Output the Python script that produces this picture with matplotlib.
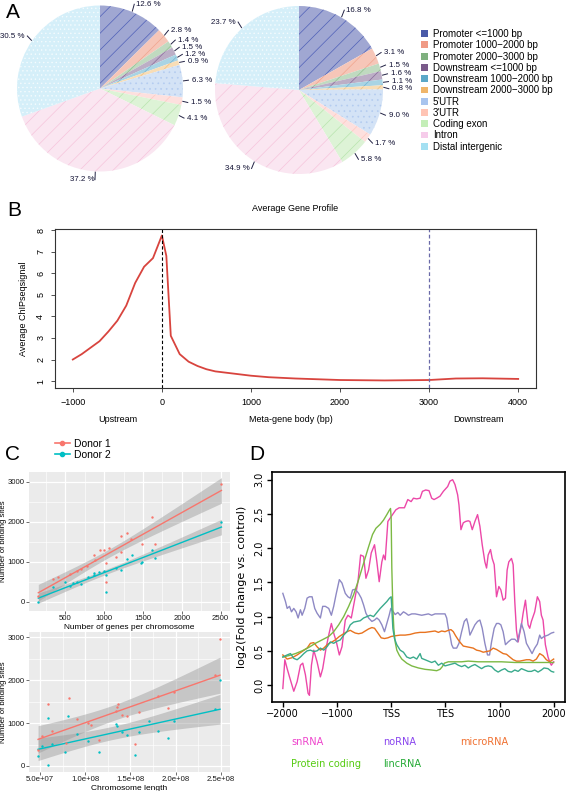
import numpy as np
import matplotlib.pyplot as plt
from matplotlib.patches import Patch
from matplotlib.lines import Line2D
import matplotlib.transforms as mtransforms

plt.rcParams['font.family'] = ['Liberation Sans', 'DejaVu Sans']
plt.rcParams['hatch.linewidth'] = 0.5

# ---------------- data ----------------
# A: genomic annotation (percent)
features = ['Promoter <=1000 bp', 'Promoter 1000\u22122000 bp', 'Promoter 2000\u22123000 bp',
            'Downstream <=1000 bp', 'Downstream 1000\u22122000 bp', 'Downstream 2000\u22123000 bp',
            "5'UTR", "3'UTR", 'Coding exon', 'Intron', 'Distal intergenic']
pct_left = [12.6, 2.8, 1.4, 1.5, 1.2, 0.9, 6.3, 1.5, 4.1, 37.2, 30.5]
pct_right = [16.8, 3.1, 1.5, 1.6, 1.1, 0.8, 9.0, 1.7, 5.8, 34.9, 23.7]

# B: average gene profile
prof_x = [-1000, -900, -800, -700, -600, -500, -400, -300, -200, -100, 0, 50, 100, 200, 300,
          400, 500, 600, 800, 1000, 1200, 1500, 2000, 2500, 3000, 3300, 3600, 4000]
prof_y = [2.0, 2.25, 2.55, 2.85, 3.3, 3.8, 4.5, 5.55, 6.3, 6.7, 7.75, 6.8, 3.1, 2.25, 1.9,
          1.7, 1.55, 1.45, 1.35, 1.25, 1.18, 1.12, 1.05, 1.03, 1.05, 1.12, 1.13, 1.1]

# C: binding sites vs genes per chromosome / chromosome length
genes_d1 = [2510, 1615, 1290, 1220, 1350, 1650, 1490, 1060, 1000, 940, 865, 1210, 1020, 1020,
            645, 410, 340, 700, 150, 780, 560, 1150, 880]
sites_g_d1 = [2950, 2120, 1730, 1640, 1570, 1450, 1450, 1360, 1290, 1290, 1170, 1240, 965, 505,
              770, 615, 570, 830, 150, 900, 700, 1130, 1050]
genes_d2 = [2510, 1620, 1355, 1650, 1290, 1470, 1210, 1020, 1000, 935, 870, 865, 790, 1020,
            600, 645, 340, 150, 490, 1490, 1150, 560, 700]
sites_g_d2 = [2010, 1300, 1170, 1090, 1070, 985, 800, 675, 775, 760, 675, 720, 620, 260,
              470, 510, 380, 10, 510, 1000, 850, 400, 450]

length_d1 = [249, 243, 198, 181, 191, 159, 146, 136, 135, 134, 155, 107, 115, 91, 82, 59, 63,
             52, 48, 79, 141, 103]
sites_l_d1 = [2950, 2130, 1730, 1630, 1360, 1250, 1170, 1440, 1365, 1280, 505, 960, 600, 1090,
              1590, 1450, 815, 700, 370, 540, 1180, 1000]
length_d2 = [249, 243, 48, 52, 59, 59, 63, 78, 81, 91, 103, 115, 135, 134, 141, 146, 155, 159,
             170, 181, 191, 198]
sites_l_d2 = [2000, 1325, 240, 470, 1110, 20, 510, 320, 1170, 735, 580, 330, 930, 980, 800,
              720, 255, 800, 1045, 820, 660, 1050]

# D: log2 fold change profiles (position 0..5 = -2000, -1000, TSS, TES, 1000, 2000)
sn_x = [0.000, 0.037, 0.080, 0.123, 0.202, 0.264, 0.325, 0.368, 0.417, 0.466, 0.491, 0.528,
        0.571, 0.632, 0.693, 0.736, 0.798, 0.847, 0.896, 0.939, 0.988, 1.043, 1.092, 1.153,
        1.202, 1.264, 1.325, 1.387, 1.436, 1.491, 1.534, 1.583, 1.632, 1.693, 1.736, 1.779,
        1.828, 1.859, 1.890, 1.939, 1.982, 2.025, 2.086, 2.147, 2.245, 2.307, 2.368, 2.411,
        2.472, 2.534, 2.577, 2.638, 2.699, 2.748, 2.791, 2.840, 2.902, 2.963, 3.043, 3.086,
        3.135, 3.178, 3.227, 3.252, 3.288, 3.331, 3.374, 3.423, 3.454, 3.497, 3.546, 3.595,
        3.638, 3.681, 3.730, 3.761, 3.791, 3.834, 3.865, 3.902, 3.945, 3.988, 4.025, 4.067,
        4.110, 4.141, 4.172, 4.221, 4.252, 4.282, 4.313, 4.344, 4.374, 4.405, 4.436, 4.479,
        4.528, 4.558, 4.589, 4.650, 4.699, 4.742, 4.773, 4.804, 4.847, 4.896, 4.926, 4.957, 5.000]
sn_y = [-0.05, 0.37, 0.24, 0.12, -0.09, 0.05, 0.29, 0.32, 0.15, -0.12, -0.15, 0.29,
        0.51, 0.34, 0.12, 0.24, 0.54, 0.73, 0.90, 0.76, 0.63, 0.44, 0.56, 0.95,
        1.02, 0.98, 1.24, 1.51, 1.90, 1.88, 1.56, 1.68, 1.93, 2.05, 1.80, 1.51,
        1.80, 1.90, 1.83, 2.39, 2.44, 2.49, 2.56, 2.59, 2.59, 2.71, 2.68, 2.73,
        2.72, 2.73, 2.83, 2.85, 2.84, 2.73, 2.71, 2.73, 2.76, 2.83, 2.90, 2.98,
        3.00, 2.93, 2.78, 2.63, 2.27, 2.37, 2.39, 2.40, 2.39, 2.27, 2.39, 2.49,
        2.32, 2.05, 1.80, 1.71, 1.90, 1.98, 1.85, 1.76, 1.29, 1.44, 1.39, 1.24,
        1.27, 1.68, 1.80, 1.85, 1.76, 1.22, 0.80, 0.63, 0.76, 0.88, 1.05, 1.24,
        0.88, 0.83, 0.93, 1.07, 1.29, 1.22, 1.02, 0.95, 0.59, 0.41, 0.34, 0.29, 0.34]

no_x = [0.000, 0.049, 0.080, 0.123, 0.160, 0.202, 0.245, 0.282, 0.325, 0.356, 0.405, 0.448,
        0.491, 0.540, 0.589, 0.632, 0.693, 0.736, 0.785, 0.847, 0.896, 0.939, 0.982, 1.043,
        1.092, 1.153, 1.202, 1.245, 1.288, 1.337, 1.399, 1.448, 1.491, 1.534, 1.583, 1.644,
        1.693, 1.736, 1.779, 1.828, 1.877, 1.920, 1.963, 1.994, 2.031, 2.074, 2.123, 2.166,
        2.227, 2.270, 2.319, 2.380, 2.442, 2.503, 2.564, 2.626, 2.687, 2.748, 2.810, 2.871,
        2.933, 2.994, 3.025, 3.055, 3.086, 3.117, 3.147, 3.209, 3.252, 3.301, 3.350, 3.393,
        3.423, 3.454, 3.497, 3.546, 3.595, 3.638, 3.681, 3.730, 3.779, 3.816, 3.853, 3.902,
        3.945, 3.988, 4.025, 4.067, 4.110, 4.160, 4.221, 4.282, 4.331, 4.374, 4.405, 4.454,
        4.497, 4.546, 4.601, 4.650, 4.699, 4.742, 4.773, 4.822, 4.896, 4.957, 5.000]
no_y = [1.34, 1.22, 1.12, 1.15, 1.07, 1.12, 1.07, 0.98, 1.10, 1.02, 1.12, 1.27,
        1.29, 1.29, 1.12, 1.05, 0.98, 1.15, 1.15, 1.12, 1.02, 1.15, 1.32, 1.54,
        1.49, 1.34, 1.29, 1.27, 1.39, 1.40, 1.34, 1.27, 1.17, 1.05, 0.98, 0.93,
        0.95, 0.98, 0.95, 0.88, 0.78, 0.90, 1.02, 1.12, 1.08, 1.03, 1.06, 1.02,
        1.07, 1.05, 1.02, 1.04, 1.04, 1.03, 1.02, 1.03, 1.04, 1.02, 1.04, 1.04,
        1.04, 1.04, 0.98, 0.83, 0.73, 0.59, 0.54, 0.54, 0.61, 0.78, 0.93, 0.97,
        0.88, 0.73, 0.80, 0.88, 0.93, 0.95, 0.83, 0.61, 0.44, 0.44, 0.63, 0.83,
        0.90, 0.90, 0.88, 0.78, 0.59, 0.63, 0.67, 0.67, 0.63, 0.78, 0.90, 0.78,
        0.61, 0.54, 0.46, 0.54, 0.60, 0.73, 0.68, 0.71, 0.73, 0.76, 0.77]

mi_x = [0.000, 0.080, 0.172, 0.264, 0.356, 0.448, 0.509, 0.571, 0.632, 0.693, 0.755, 0.834,
        0.908, 0.969, 1.043, 1.123, 1.184, 1.245, 1.288, 1.337, 1.399, 1.460, 1.521, 1.583,
        1.644, 1.693, 1.755, 1.816, 1.877, 1.939, 2.000, 2.074, 2.166, 2.258, 2.350, 2.442,
        2.534, 2.626, 2.718, 2.810, 2.871, 2.933, 2.994, 3.055, 3.104, 3.147, 3.190, 3.239,
        3.288, 3.331, 3.393, 3.454, 3.515, 3.577, 3.638, 3.699, 3.761, 3.822, 3.883, 3.945,
        4.006, 4.067, 4.129, 4.190, 4.252, 4.313, 4.374, 4.436, 4.497, 4.558, 4.620, 4.681,
        4.742, 4.804, 4.865, 4.926, 5.000]
mi_y = [0.44, 0.38, 0.40, 0.44, 0.49, 0.54, 0.61, 0.62, 0.56, 0.51, 0.54, 0.60,
        0.63, 0.66, 0.71, 0.75, 0.78, 0.80, 0.78, 0.76, 0.75, 0.76, 0.79, 0.82,
        0.84, 0.83, 0.76, 0.69, 0.68, 0.69, 0.71, 0.72, 0.73, 0.73, 0.74, 0.76,
        0.77, 0.77, 0.78, 0.79, 0.77, 0.79, 0.78, 0.80, 0.81, 0.78, 0.72, 0.66,
        0.61, 0.57, 0.56, 0.55, 0.54, 0.51, 0.50, 0.48, 0.49, 0.50, 0.54, 0.52,
        0.49, 0.46, 0.45, 0.41, 0.37, 0.35, 0.35, 0.36, 0.37, 0.37, 0.35, 0.38,
        0.46, 0.43, 0.37, 0.34, 0.38]

pc_x = [0.000, 0.110, 0.233, 0.356, 0.479, 0.601, 0.724, 0.847, 0.939, 1.031, 1.123, 1.215,
        1.307, 1.399, 1.491, 1.583, 1.656, 1.718, 1.798, 1.859, 1.920, 1.963, 1.988, 2.000,
        2.012, 2.031, 2.049, 2.074, 2.104, 2.147, 2.196, 2.288, 2.380, 2.503, 2.626, 2.748,
        2.840, 2.902, 2.945, 2.982, 3.055, 3.178, 3.301, 3.423, 3.607, 3.791, 4.037, 4.282,
        4.528, 4.773, 5.000]
pc_y = [0.41, 0.43, 0.46, 0.50, 0.55, 0.61, 0.66, 0.71, 0.78, 0.88, 1.00, 1.15,
        1.32, 1.54, 1.78, 2.02, 2.20, 2.29, 2.35, 2.41, 2.49, 2.55, 2.58, 2.44,
        1.71, 1.12, 0.83, 0.63, 0.51, 0.44, 0.38, 0.32, 0.28, 0.25, 0.23, 0.22,
        0.21, 0.23, 0.27, 0.32, 0.34, 0.34, 0.34, 0.35, 0.34, 0.34, 0.34, 0.33,
        0.33, 0.33, 0.33]

li_x = [0.000, 0.080, 0.141, 0.202, 0.264, 0.325, 0.387, 0.448, 0.509, 0.571, 0.632, 0.693,
        0.755, 0.816, 0.877, 0.939, 1.000, 1.061, 1.123, 1.184, 1.245, 1.307, 1.368, 1.429,
        1.491, 1.552, 1.613, 1.675, 1.736, 1.798, 1.859, 1.920, 1.969, 2.000, 2.012, 2.031,
        2.061, 2.104, 2.166, 2.227, 2.288, 2.350, 2.411, 2.472, 2.534, 2.564, 2.626, 2.687,
        2.748, 2.810, 2.871, 2.933, 2.994, 3.086, 3.178, 3.239, 3.301, 3.362, 3.423, 3.485,
        3.546, 3.607, 3.669, 3.730, 3.791, 3.853, 3.914, 3.975, 4.037, 4.098, 4.160, 4.221,
        4.282, 4.344, 4.405, 4.466, 4.528, 4.589, 4.650, 4.712, 4.773, 4.822, 4.896, 4.957, 5.000]
li_y = [0.41, 0.44, 0.46, 0.39, 0.37, 0.41, 0.46, 0.50, 0.51, 0.49, 0.50, 0.54,
        0.51, 0.56, 0.63, 0.61, 0.64, 0.66, 0.73, 0.78, 0.88, 0.92, 0.93, 0.94,
        0.98, 1.00, 1.02, 1.00, 1.06, 1.12, 1.17, 1.22, 1.27, 1.29, 1.12, 0.83,
        0.68, 0.59, 0.51, 0.48, 0.41, 0.39, 0.41, 0.38, 0.46, 0.39, 0.37, 0.35,
        0.33, 0.35, 0.29, 0.32, 0.28, 0.30, 0.32, 0.29, 0.27, 0.29, 0.25, 0.28,
        0.30, 0.27, 0.24, 0.27, 0.28, 0.27, 0.22, 0.19, 0.22, 0.24, 0.20, 0.19,
        0.22, 0.20, 0.24, 0.22, 0.20, 0.20, 0.22, 0.19, 0.22, 0.25, 0.24, 0.20, 0.19]

# ---------------- styles ----------------
legend_cols = ['#4A5AA8', '#F09A85', '#7FB07F', '#7A5A8A', '#5BA8C8', '#F0B66A',
               '#A8C4EE', '#FFC4B4', '#C4EEB8', '#F6CCEA', '#A4E0F2']
pie_fill = ['#A0A7D2', '#F6C6B8', '#C0DAC0', '#BCAEC6', '#A9D4E4', '#F8DDB6',
            '#D4E3F6', '#FDE0DE', '#DDF3D6', '#FAE6F1', '#D5EFF9']
hatch_col = ['#5060B8', '#F0A48E', '#90C090', '#8A6A9A', '#70B4D4', '#F0C080',
             '#B4CCF0', '#FFC8C0', '#B8E4AE', '#F6C4DC', '#F4FBFE']
pie_hatch = ['//', '//', '//', '//', '//', '//', '...', '//', '//', '//', '....']

fig = plt.figure(figsize=(5.67, 7.91), dpi=100)
W, H = 567.0, 791.0


def fx(px):
    return px / W


def fy(px):
    return 1 - px / H


def pie_panel(cx, cy, r, pct):
    ax = fig.add_axes([fx(cx - r), fy(cy + r), 2 * r / W, 2 * r / H])
    wedges, _ = ax.pie(pct, colors=pie_fill, startangle=90, counterclock=False,
                       radius=1, wedgeprops=dict(linewidth=0))
    for w, h, hc in zip(wedges, pie_hatch, hatch_col):
        w.set_hatch(h)
        w.set_edgecolor(hc)
        w.set_linewidth(0)
    ax.set_xlim(-1, 1)
    ax.set_ylim(-1, 1)
    ax.axis('off')
    p = np.array(pct)
    mid = np.cumsum(p) - p / 2
    th = np.deg2rad(mid / 100 * 360)
    sx, cyv = np.sin(th), np.cos(th)
    ty = 1.1 * cyv
    for side in (1, -1):
        idx = [i for i in range(len(p)) if np.sign(sx[i]) == side]
        idx.sort(key=lambda i: -ty[i])
        for a, b in zip(idx[:-1], idx[1:]):
            if ty[a] - ty[b] < 0.085:
                ty[b] = ty[a] - 0.085
    for i in range(len(p)):
        ax.plot([1.01 * sx[i], 1.07 * sx[i]], [1.01 * cyv[i], ty[i]], color='#222244',
                lw=0.7, clip_on=False)
        ax.text(1.11 * sx[i], ty[i], f'{p[i]:.1f} %', fontsize=5.7, color='#111133',
                ha='left' if sx[i] > 0 else 'right', va='center', clip_on=False)


pie_panel(100, 88.5, 83, pct_left)
pie_panel(299, 90, 84, pct_right)

fig.legend(handles=[Patch(facecolor=c, edgecolor='none') for c in legend_cols], labels=features,
           loc='upper left', bbox_to_anchor=(fx(421), fy(29)), frameon=False, fontsize=7,
           handlelength=0.7, handleheight=0.7, handletextpad=0.5, labelspacing=0.13,
           borderaxespad=0, borderpad=0)

# ---------------- B ----------------
axB = fig.add_axes([fx(55), fy(388), (536 - 55) / W, (388 - 229) / H])
axB.plot(prof_x, prof_y, color='#D8443E', lw=1.3)
axB.axvline(0, color='black', ls=(0, (3, 2)), lw=0.8)
axB.axvline(3000, color='#6A6AA8', ls=(0, (3, 2)), lw=0.9)
axB.set_xlim(-1200, 4200)
axB.set_ylim(0.68, 8.05)
bx = [-1000, 0, 1000, 2000, 3000, 4000]
axB.set_xticks(bx)
axB.set_xticklabels([str(v).replace('-', '\u2212') for v in bx])
axB.set_yticks(range(1, 9))
axB.tick_params(labelsize=6.5, length=3, width=0.6, pad=4, color='#333333')
for t in axB.get_yticklabels():
    t.set_rotation(90)
    t.set_va('center')
for s in axB.spines.values():
    s.set_color('#333333')
    s.set_linewidth(0.8)
axB.set_ylabel('Average ChIPseqsignal', fontsize=6.5, labelpad=6)
axB.set_title('Average Gene Profile', fontsize=6.5, pad=13)
trB = mtransforms.blended_transform_factory(axB.transData, axB.transAxes)
for xv, lab in [(-500, 'Upstream'), (1450, 'Meta-gene body (bp)'), (3550, 'Downstream')]:
    axB.text(xv, -0.195, lab, transform=trB, ha='center', va='center', fontsize=6.5)

# ---------------- C ----------------
red, teal = '#F8766D', '#00BFC4'


def gg(ax):
    ax.set_facecolor('#EBEBEB')
    for s in ax.spines.values():
        s.set_visible(False)
    ax.grid(which='major', color='white', lw=0.9)
    ax.grid(which='minor', color='white', lw=0.45)
    ax.set_axisbelow(True)
    ax.tick_params(which='major', length=2, width=0.5, color='#333333', labelsize=5.6,
                   pad=1, labelcolor='#1a1a1a')
    ax.tick_params(which='minor', length=0)


def fit_band(ax, x, y, col):
    x = np.asarray(x, float)
    y = np.asarray(y, float)
    b, a = np.polyfit(x, y, 1)
    xs = np.linspace(x.min(), x.max(), 80)
    n = len(x)
    s = np.sqrt(np.sum((y - (a + b * x)) ** 2) / (n - 2))
    se = s * np.sqrt(1 / n + (xs - x.mean()) ** 2 / np.sum((x - x.mean()) ** 2))
    fit = a + b * xs
    ax.fill_between(xs, fit - 2.08 * se, fit + 2.08 * se, color='#999999', alpha=0.45, lw=0,
                    zorder=2)
    ax.plot(xs, fit, color=col, lw=1.0, zorder=3)
    ax.scatter(x, y, s=3, color=col, zorder=4, lw=0)


axC1 = fig.add_axes([fx(29), fy(611), (230 - 29) / W, (611 - 472) / H])
gg(axC1)
fit_band(axC1, genes_d1, sites_g_d1, red)
fit_band(axC1, genes_d2, sites_g_d2, teal)
axC1.set_xlim(30, 2620)
axC1.set_ylim(-225, 3250)
axC1.set_xticks([500, 1000, 1500, 2000, 2500])
axC1.set_xticks([250, 750, 1250, 1750, 2250], minor=True)
axC1.set_yticks([0, 1000, 2000, 3000])
axC1.set_yticks([500, 1500, 2500], minor=True)
axC1.set_xlabel('Number of genes per chromosome', fontsize=6, labelpad=1)
axC1.set_ylabel('Number of binding sites', fontsize=5.6, labelpad=0.5)

axC2 = fig.add_axes([fx(29), fy(772), (230 - 29) / W, (772 - 632) / H])
gg(axC2)
fit_band(axC2, length_d1, sites_l_d1, red)
fit_band(axC2, length_d2, sites_l_d2, teal)
axC2.set_xlim(38, 260)
axC2.set_ylim(-140, 3120)
axC2.set_xticks([50, 100, 150, 200, 250])
axC2.set_xticklabels(['5.0e+07', '1.0e+08', '1.5e+08', '2.0e+08', '2.5e+08'])
axC2.set_xticks([75, 125, 175, 225], minor=True)
axC2.set_yticks([0, 1000, 2000, 3000])
axC2.set_yticks([500, 1500, 2500], minor=True)
axC2.set_xlabel('Chromosome length', fontsize=6, labelpad=1)
axC2.set_ylabel('Number of binding sites', fontsize=5.6, labelpad=0.5)

fig.legend(handles=[Line2D([], [], color=red, marker='o', ms=3, lw=1.2),
                    Line2D([], [], color=teal, marker='o', ms=3, lw=1.2)],
           labels=['Donor 1', 'Donor 2'], loc='upper left', bbox_to_anchor=(fx(55), fy(439)),
           frameon=False, fontsize=7.5, handlelength=1.4, handletextpad=0.4,
           labelspacing=0.05, borderaxespad=0, borderpad=0)

# ---------------- D ----------------
dj = ['DejaVu Sans']
axD = fig.add_axes([fx(272), fy(701.5), 292.5 / W, 230 / H])
series = [(sn_x, sn_y, '#EC48A8'), (no_x, no_y, '#8E89C4'), (mi_x, mi_y, '#E8731F'),
          (pc_x, pc_y, '#7CB944'), (li_x, li_y, '#3AAA8C')]
for xs, ys, c in series:
    axD.plot(xs, ys, color=c, lw=1.0)
axD.set_xlim(-0.2, 5.2)
axD.set_ylim(-0.24, 3.12)
axD.set_xticks(range(6))
axD.set_xticklabels(['\u22122000', '\u22121000', 'TSS', 'TES', '1000', '2000'], family=dj)
dy = [0.0, 0.5, 1.0, 1.5, 2.0, 2.5, 3.0]
axD.set_yticks(dy)
axD.set_yticklabels([f'{v:.1f}' for v in dy], family=dj, rotation=90, va='center')
axD.tick_params(labelsize=7, length=3.5, width=1.0, pad=2)
for s in axD.spines.values():
    s.set_linewidth(1.2)
axD.set_ylabel('log2(Fold change vs. control)', fontsize=8, family=dj, labelpad=5)

for lab, c, x, y in [('snRNA', '#EE44CC', 291, 742), ('noRNA', '#8844EE', 383, 742),
                     ('microRNA', '#F07030', 460, 742), ('Protein coding', '#55CC11', 291, 764),
                     ('lincRNA', '#22AA33', 383, 764)]:
    fig.text(fx(x), fy(y), lab, color=c, fontsize=7, family=dj, va='center')

# panel letters
for lab, x, y in [('A', 6, 12), ('B', 7, 211), ('C', 5, 455), ('D', 249, 455)]:
    fig.text(fx(x), fy(y), lab, fontsize=15, va='center')

fig.savefig('out.png', dpi=100)
